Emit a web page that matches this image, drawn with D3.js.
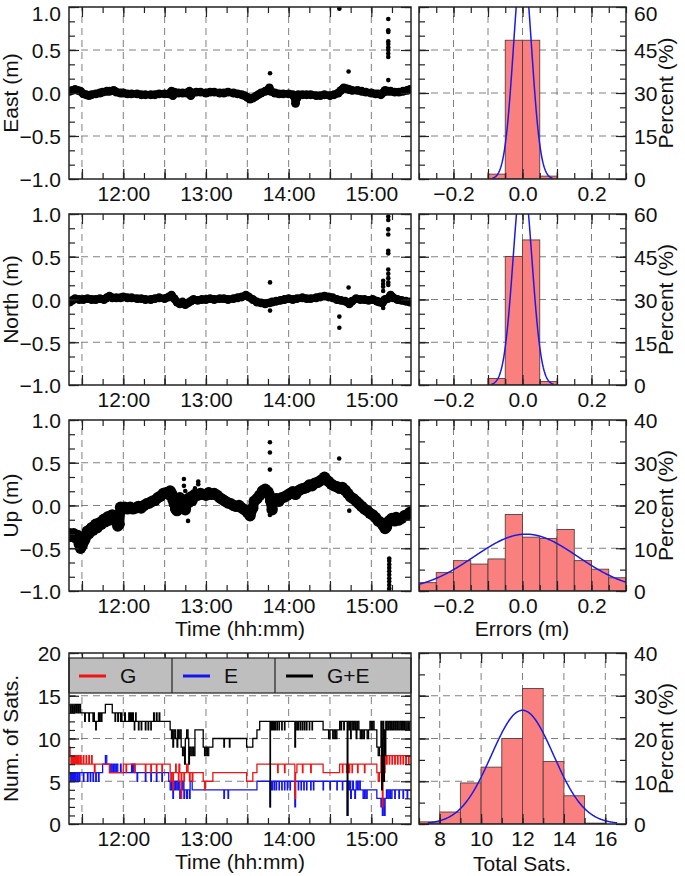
<!DOCTYPE html>
<html><head><meta charset="utf-8">
<script src="https://cdn.jsdelivr.net/npm/d3@7"></script>
<style>
body{margin:0;background:#fff}
svg{display:block}
text{font-family:"Liberation Sans",Arial,Helvetica,sans-serif;fill:#111}
</style>
</head><body><svg id="c" width="685" height="876"></svg>
<script>
// ---------------- DATA (time = minutes after 11:00) ----------------
const eastBand = [[21,0.02],[23,0.03],[25,0.04],[27,0.03],[29,0.02],[31,-0.01],[33,-0.02],[35,-0.03],[37,-0.02],[40,-0.01],[43,0.0],[45,0.01],[48,0.02],[50,0.02],[53,0.03],[55,0.01],[58,0.0],[60,0.0],[63,-0.01],[66,-0.01],[70,-0.01],[73,-0.02],[76,-0.02],[80,-0.02],[83,-0.02],[86,-0.01],[90,-0.01],[93,-0.01],[95,0.02],[96,-0.03],[97,0.01],[100,0.0],[103,0.0],[106,0.0],[108,0.02],[109,-0.03],[110,0.0],[113,0.01],[116,0.01],[120,0.0],[123,0.01],[126,0.01],[130,0.0],[133,0.0],[136,0.01],[140,0.0],[143,-0.01],[146,-0.02],[148,-0.03],[150,-0.05],[152,-0.07],[154,-0.06],[156,-0.04],[158,-0.02],[160,0.0],[163,0.02],[165,0.03],[166,0.06],[167,0.02],[170,0.0],[173,-0.01],[176,-0.01],[180,-0.01],[183,-0.02],[184,-0.04],[185,-0.12],[186,-0.06],[187,-0.02],[190,-0.02],[193,-0.02],[196,-0.02],[200,-0.03],[203,-0.03],[206,-0.02],[210,-0.03],[213,-0.02],[216,0.0],[218,0.03],[220,0.06],[222,0.05],[224,0.04],[226,0.03],[230,0.03],[233,0.02],[236,0.01],[240,0.0],[243,-0.01],[245,-0.01],[247,-0.02],[249,0.01],[250,0.03],[252,0.02],[254,0.02],[257,0.01],[260,0.01],[263,0.02],[266,0.03],[268,0.04]];
const eastOutliers = [[166.5,0.23],[216.8,0.98],[223.5,0.25],[252.3,0.86],[252.3,0.73],[252.3,0.71],[252.3,0.6],[252.3,0.57],[252.3,0.53],[252.3,0.5],[252.3,0.46],[252.3,0.42],[252.3,0.15]];

const northBand = [[21,-0.03],[23,-0.01],[25,0.01],[28,0.0],[31,0.0],[34,0.01],[37,0.0],[40,0.0],[43,0.01],[46,0.0],[48,0.02],[50,0.04],[52,0.02],[55,0.02],[58,0.02],[60,0.03],[63,0.02],[66,0.02],[70,0.01],[73,0.01],[76,0.0],[80,0.0],[83,0.01],[86,0.02],[90,0.01],[93,0.03],[95,0.05],[97,0.01],[99,-0.03],[101,-0.05],[103,-0.03],[105,-0.06],[107,-0.04],[109,-0.02],[111,0.0],[114,-0.01],[117,0.0],[120,0.0],[123,0.01],[126,0.0],[130,0.01],[133,0.01],[136,0.0],[140,0.01],[143,0.02],[146,0.03],[149,0.05],[151,0.03],[154,0.0],[157,-0.03],[160,-0.04],[163,-0.05],[166,-0.04],[168,-0.03],[171,-0.02],[174,-0.01],[177,0.0],[180,0.01],[183,0.0],[186,0.01],[190,0.02],[193,0.01],[196,0.01],[200,0.02],[203,0.03],[206,0.04],[209,0.03],[212,0.02],[215,0.0],[218,-0.01],[221,-0.02],[224,-0.05],[226,-0.02],[229,0.01],[232,0.0],[235,0.0],[238,-0.01],[241,0.0],[244,-0.02],[246,-0.03],[248,-0.04],[250,0.0],[252,0.01],[254,0.05],[256,0.02],[259,0.0],[262,-0.01],[265,-0.02],[268,-0.03]];
const northOutliers = [[166.5,0.2],[166.5,-0.13],[216.8,-0.2],[216.8,-0.33],[223.5,0.14],[248.6,0.22],[248.6,0.18],[248.6,0.15],[248.6,0.1],[248.6,-0.05],[248.6,-0.1],[252.3,0.97],[252.3,0.93],[252.3,0.82],[252.3,0.76],[252.3,0.57],[252.3,0.54],[252.3,0.35],[252.3,0.3],[252.3,0.25],[252.3,0.2],[252.3,0.17]];

const upBand = [[21,-0.33],[22,-0.36],[24,-0.33],[25.5,-0.38],[27,-0.35],[28,-0.45],[29,-0.5],[30,-0.47],[31,-0.43],[32,-0.4],[33,-0.36],[34,-0.3],[35,-0.33],[36,-0.28],[37,-0.26],[38,-0.29],[39,-0.25],[40,-0.22],[41,-0.26],[42,-0.23],[43,-0.2],[44,-0.22],[45,-0.18],[46,-0.16],[47,-0.19],[48,-0.15],[49,-0.13],[50,-0.17],[51,-0.14],[52,-0.11],[53,-0.13],[54,-0.16],[55,-0.18],[56,-0.24],[57,-0.22],[58,-0.02],[59,-0.03],[61,-0.02],[63,-0.04],[65,-0.02],[67,-0.04],[69,-0.03],[71,-0.01],[73,-0.03],[75,0.0],[77,0.02],[79,0.03],[81,0.05],[83,0.06],[85,0.09],[87,0.11],[89,0.14],[91,0.15],[93,0.13],[94,0.17],[95,0.14],[96,0.07],[97,0.02],[98,-0.04],[99,-0.06],[100,0.04],[101,0.09],[102,0.03],[103,0.0],[104,0.05],[105,-0.05],[106,0.02],[107,0.08],[108,0.04],[109,0.1],[110,0.06],[111,0.11],[112,0.13],[114,0.12],[116,0.14],[118,0.13],[120,0.12],[122,0.15],[124,0.13],[126,0.14],[128,0.12],[130,0.09],[132,0.07],[134,0.05],[136,0.03],[138,0.02],[140,0.0],[142,-0.01],[144,0.0],[146,-0.03],[148,-0.05],[150,-0.08],[152,-0.12],[154,-0.03],[155,0.05],[157,0.08],[159,0.12],[161,0.17],[163,0.19],[165,0.16],[166,0.12],[167,0.05],[168,-0.05],[169,0.06],[171,0.08],[173,0.05],[175,0.09],[177,0.1],[179,0.12],[181,0.14],[183,0.16],[185,0.13],[187,0.17],[189,0.19],[191,0.2],[193,0.21],[195,0.24],[197,0.23],[199,0.26],[201,0.27],[203,0.29],[205,0.31],[206,0.33],[207,0.31],[209,0.28],[211,0.25],[213,0.23],[215,0.22],[217,0.2],[219,0.21],[221,0.18],[223,0.14],[225,0.1],[227,0.08],[229,0.05],[231,0.02],[233,-0.01],[235,-0.04],[237,-0.06],[239,-0.09],[241,-0.11],[243,-0.14],[245,-0.18],[247,-0.2],[248,-0.22],[249,-0.24],[250,-0.27],[251,-0.25],[252,-0.2],[253,-0.18],[254,-0.17],[255,-0.15],[256,-0.16],[257,-0.18],[258,-0.14],[260,-0.17],[262,-0.15],[264,-0.12],[266,-0.11],[268,-0.08]];
const upOutliers = [[104,0.31],[104,0.23],[105,0.17],[107,-0.18],[112,0.2],[114.4,0.28],[114.4,0.25],[166.4,0.74],[166.4,0.62],[166.4,0.42],[166.4,-0.11],[216.7,0.55],[224,-0.06],[253,-0.62],[253,-0.65],[253,-0.69],[253,-0.73],[253,-0.77],[253,-0.81],[253,-0.85],[253,-0.89],[253,-0.93],[253,-0.97],[253,-1.0]];

// satellites: step change points [time, count]
const satsGE = [[21,14],[21.5,13],[22,14],[23,13],[23.5,14],[24.5,13],[25,14],[26,13],[26.5,14],[27.5,13],[28,14],[29,13],[32,12],[32.4,13],[35,12],[35.4,13],[38,12],[38.4,13],[39,12],[40,11],[40.4,12],[42,13],[42.5,12],[43,13],[44,12],[44.5,13],[47,14],[52,13],[54,12],[54.4,13],[56,12],[56.4,13],[58,12],[58.5,13],[59,12],[61,13],[61.5,12],[64,13],[64.3,12],[65,13],[65.3,12],[66,13],[66.3,12],[67,13],[67.3,12],[68,11],[68.3,12],[69,13],[69.3,12],[71,11],[71.4,12],[73,11],[73.4,12],[76,11],[76.4,12],[78,11],[78.4,12],[80,11],[80.3,12],[82,13],[82.5,12],[84,13],[84.5,12],[86,13],[86.5,12],[94,11],[95,10],[95.5,11],[96,9],[96.5,10],[97,11],[98,10],[99,9],[99.5,11],[100,10],[101,11],[102,9],[103,8],[104,9],[104.5,7],[105,10],[106,11],[107,10],[107.5,7],[108,9],[109,8],[110,9],[111,8],[112,11],[118,9],[119,8],[120,9],[121,8],[122,9],[125,10],[133,9],[133.4,10],[137,9],[137.4,10],[149.5,9],[154,10],[157,11],[159,12],[166.5,2],[166.8,12],[167,11],[167.3,12],[168,11],[168.3,12],[169,11],[169.3,12],[170,11],[170.4,12],[171.5,11],[171.8,12],[173,11],[173.3,12],[175,11],[175.3,12],[177,11],[177.3,12],[184.5,9],[185,12],[186,11],[186.3,12],[187,11],[187.3,12],[188.5,11],[188.8,12],[190,11],[190.3,12],[191.5,11],[191.8,12],[193,11],[193.3,12],[195,11],[195.3,12],[197,11],[197.3,12],[205,11],[209,10],[210,11],[212,10],[213,11],[214,10],[215,11],[217,12],[218,11],[218.4,12],[220,11],[220.4,12],[222.5,1],[223,12],[224,11],[224.4,12],[225,10],[225.4,12],[226.5,11],[227,12],[228,11],[228.4,12],[229,10],[229.5,11],[230,12],[231,11],[232,10],[233,11],[234,10],[235,11],[237,10],[238,11],[239,12],[240,11],[241,12],[242,11],[244,9],[245,8],[246,9],[247,12],[247.5,4],[248,10],[248.5,12],[249,5],[249.5,11],[250,8],[250.5,12],[251,11],[252,12],[252.5,11],[253,12],[254,11],[254.5,12],[255,11],[256,12],[257,11],[257.5,12],[258.5,11],[259,12],[260,11],[261,12],[262,11],[262.5,12],[263.5,11],[264,12],[265,11],[266,12],[267,11],[268,12],[270,12]];
const satsG = [[21,9],[21.4,8],[22,7],[22.4,8],[23,7],[23.4,8],[24,7],[24.4,8],[25,7],[25.4,8],[26,7],[26.4,8],[27,7],[27.4,8],[28,7],[29,8],[29.4,7],[31,8],[31.4,7],[33,8],[33.4,7],[35,8],[35.4,7],[37,8],[37.4,7],[39,6],[39.5,7],[50,6],[60,7],[62,6],[62.4,7],[68,6],[68.4,7],[76,6],[76.4,7],[80,6],[80.4,7],[84,6],[84.4,7],[88,6],[88.4,7],[94,6],[94.5,5],[95,6],[96,4],[96.4,6],[98,7],[98.4,6],[100,5],[100.4,7],[101,6],[102,3],[102.4,6],[104,5],[104.4,6],[106,7],[107,6],[108,5],[108.5,6],[110,5],[110.5,6],[118,5],[119,4],[119.5,5],[125,6],[149.5,5],[154,6],[157,7],[172,6],[172.4,7],[177,6],[177.4,7],[184.5,3],[185,6],[186,7],[190,6],[190.4,7],[196,6],[196.4,7],[205,6],[217,7],[219,6],[219.4,7],[222,6],[222.3,7],[223,6],[223.3,7],[224,6],[224.3,7],[226,6],[226.3,7],[230,6],[230.4,7],[235,6],[235.4,7],[244,6],[245,5],[246,6],[247,8],[247.5,7],[248,2],[248.5,7],[249,8],[249.5,6],[250,8],[251,7],[251.5,8],[253,7],[253.4,8],[255,7],[255.4,8],[257,7],[257.4,8],[259,7],[259.4,8],[261,7],[261.4,8],[263,7],[263.4,8],[265,7],[265.4,8],[267,7],[267.4,8],[270,8]];
const satsE = [[21,5],[21.5,6],[22,5],[22.5,6],[23,5],[23.5,6],[24,5],[24.5,6],[25,5],[25.5,6],[26.5,5],[27,6],[28,5],[28.5,6],[31,5],[31.4,6],[34,5],[34.4,6],[36,5],[36.4,6],[38,5],[38.4,6],[40,5],[40.4,6],[42,5],[42.4,6],[45,7],[47,8],[48,7],[50,6],[51,7],[52,6],[53,7],[54,6],[55,7],[56,6],[58,7],[58.4,6],[66,7],[66.5,6],[67,7],[67.5,6],[68,7],[68.5,6],[70,5],[70.4,6],[76,5],[76.4,6],[80,5],[80.4,6],[84,5],[84.4,6],[88,5],[88.4,6],[93,5],[94,4],[95,5],[96,3],[96.4,5],[97,4],[98,5],[99,4],[100,5],[101,3],[102,4],[103,5],[104,3],[104.5,4],[106,3],[106.5,4],[108,3],[108.5,5],[110,4],[133,3],[133.4,4],[136,3],[136.4,4],[157,5],[166.5,2],[166.8,5],[167,4],[167.3,5],[168,4],[168.3,5],[169.5,4],[169.8,5],[171,4],[171.3,5],[173,4],[173.3,5],[175,4],[175.3,5],[177,4],[177.3,5],[179,4],[179.3,5],[181,4],[181.3,5],[184.5,2],[185,5],[187,4],[187.3,5],[189,4],[189.3,5],[191,4],[191.3,5],[193,4],[193.3,5],[196,4],[196.3,5],[198,4],[198.3,5],[205,4],[205.3,5],[210,4],[210.3,5],[215,4],[215.3,5],[219,4],[219.3,5],[222.5,1],[223,5],[224,4],[224.5,5],[225,3],[225.5,4],[226.5,5],[227,4],[228,3],[228.5,4],[229,5],[230,4],[231,5],[232,4],[234,3],[235,4],[236,3],[237,4],[244,3],[247,2],[247.5,3],[248,1],[248.5,3],[249,2],[249.5,1],[250,3],[251,4],[252,3],[253,4],[254,3],[255,4],[257,3],[257.4,4],[260,3],[260.4,4],[263,3],[263.4,4],[266,3],[266.4,4],[270,4]];

// histograms (percent per bin)
const eastBins = [-0.1,-0.05,0.0,0.05];   const eastPct = [1.7,48.4,48.4,1.0];
const northBins = [-0.1,-0.05,0.0,0.05];  const northPct = [2.3,45.1,50.9,1.2];
const upBins = [-0.3,-0.25,-0.2,-0.15,-0.1,-0.05,0.0,0.05,0.1,0.15,0.2,0.25];
const upPct = [1.95,4.3,7.1,6.3,7.5,17.9,12.6,12.3,14.4,7.1,5.1,3.1];
const satBins = [7,8,9,10,11,12,13,14,15];
const satPct = [0.5,2.8,9.6,13.3,20.0,31.7,14.6,6.6,0.2];
// gaussian fits [mean, sigma, binWidth]
const eastFit = [0.0,0.026,0.05], northFit = [0.0,0.027,0.05], upFit = [0.01,0.15,0.05], satFit = [12,1.5,1];

// tick labels
const timeLabels = [60,120,180,240];           // 12:00..15:00
const errLabels = [-0.2,0.0,0.2];
const satLabels = [8,10,12,14,16];
const enuLabels = [-1,-0.5,0,0.5,1];
const satCountLabels = [0,5,10,15,20];
const pct60Labels = [0,15,30,45,60];
const pct40Labels = [0,10,20,30,40];

// ---------------- DRAWING ----------------
const svg = d3.select("#c");
const FS = 21;
const LX = [69,411], RX = [419,626];
const rows = [[179,7],[385,214],[591,420],[824,653]];

const xT = d3.scaleLinear().domain([20.6,268.8]).range(LX);
const xErr = d3.scaleLinear().domain([-0.3,0.3]).range(RX);
const xSat = d3.scaleLinear().domain([7,17]).range(RX);
const fmtTime = t => (11+Math.floor(t/60)) + ":" + String(Math.round(t%60)).padStart(2,"0");
const fmt1 = d3.format(".1f");
const fmt0 = d3.format("d");

let clipId = 0;
function makeClip(x,y){
  const id = "cl"+(clipId++);
  svg.append("clipPath").attr("id",id).append("rect")
    .attr("x",x.range()[0]).attr("y",y.range()[1])
    .attr("width",x.range()[1]-x.range()[0]).attr("height",y.range()[0]-y.range()[1]);
  return "url(#"+id+")";
}
function grid(x,y,xg,yg){
  const g = svg.append("g").attr("stroke","#808080").attr("stroke-width",1).attr("stroke-dasharray","7,5");
  g.selectAll(null).data(xg).join("line").attr("x1",d=>x(d)).attr("x2",d=>x(d)).attr("y1",y.range()[0]).attr("y2",y.range()[1]);
  g.selectAll(null).data(yg).join("line").attr("y1",d=>y(d)).attr("y2",d=>y(d)).attr("x1",x.range()[0]).attr("x2",x.range()[1]);
}
function tickSet(axisFn, scale, vals, size, tx, ty){
  svg.append("g").attr("transform",`translate(${tx},${ty})`)
    .call(axisFn(scale).tickValues(vals).tickSize(size).tickFormat(""))
    .call(g=>g.select(".domain").remove())
    .attr("color","#222").selectAll("line").attr("stroke-width",1.2);
}
function ticks(x,y,o){
  const [xa,xb]=x.range(), [ya,yb]=y.range();
  tickSet(d3.axisBottom,x,o.xMinor,-6,0,ya); tickSet(d3.axisBottom,x,o.xMajor,-10,0,ya);
  tickSet(d3.axisTop,x,o.xMinor,-6,0,yb);    tickSet(d3.axisTop,x,o.xMajor,-10,0,yb);
  tickSet(d3.axisLeft,y,o.yMinor,-6,xa,0);   tickSet(d3.axisLeft,y,o.yMajor,-10,xa,0);
  tickSet(d3.axisRight,y,o.yMinor,-6,xb,0);  tickSet(d3.axisRight,y,o.yMajor,-10,xb,0);
}
function labels(x,y,o){
  const [xa,xb]=x.range(), [ya,yb]=y.range();
  svg.append("g").attr("transform",`translate(0,${ya})`)
    .call(d3.axisBottom(x).tickValues(o.xLabels).tickFormat(o.xFmt).tickSize(0).tickPadding(7))
    .call(g=>g.select(".domain").remove())
    .attr("font-size",FS).attr("font-family",null).attr("color","#111");
  const yAx = o.right ? d3.axisRight(y) : d3.axisLeft(y);
  svg.append("g").attr("transform",`translate(${o.right?xb:xa},0)`)
    .call(yAx.tickValues(o.yLabels).tickFormat(o.yFmt).tickSize(0).tickPadding(8))
    .call(g=>g.select(".domain").remove())
    .call(g=>g.selectAll("text").attr("dy",d=>y(d)<15 ? (20-y(d))+"px" : "0.38em"))
    .attr("font-size",FS).attr("font-family",null).attr("color","#111");
}
function frameRect(x,y){
  svg.append("rect").attr("x",x.range()[0]).attr("y",y.range()[1])
    .attr("width",x.range()[1]-x.range()[0]).attr("height",y.range()[0]-y.range()[1])
    .attr("fill","none").attr("stroke","#222").attr("stroke-width",1.5);
}
function vTitle(txt,x,yMid){
  svg.append("text").attr("transform",`translate(${x},${yMid}) rotate(-90)`)
    .attr("text-anchor","middle").attr("font-size",FS).text(txt);
}
function hTitle(txt,xMid,y){
  svg.append("text").attr("x",xMid).attr("y",y).attr("text-anchor","middle").attr("font-size",FS).text(txt);
}

const timeMinor = d3.range(30,269,15), timeMajor = d3.range(30,269,30);
const enuMinor = d3.range(0,13).map(i=>-1+i/6);

// ---- time series panels (E, N, U)
const tsPanels = [
  {band:eastBand, out:eastOutliers, title:"East (m)", w:7.5},
  {band:northBand, out:northOutliers, title:"North (m)", w:7.5},
  {band:upBand, out:upOutliers, title:"Up (m)", w:10}
];
tsPanels.forEach((p,i)=>{
  const y = d3.scaleLinear().domain([-1,1]).range(rows[i]);
  grid(xT,y,timeMajor,[-0.5,0,0.5]);
  const clip = makeClip(xT,y);
  const g = svg.append("g").attr("clip-path",clip);
  g.append("path").datum(p.band)
    .attr("d",d3.line().x(d=>xT(d[0])).y(d=>y(d[1])))
    .attr("fill","none").attr("stroke","#000").attr("stroke-width",p.w)
    .attr("stroke-linejoin","round").attr("stroke-linecap","round");
  g.selectAll(null).data(p.band).join("circle")
    .attr("cx",d=>xT(d[0])).attr("cy",d=>y(d[1])).attr("r",p.w/2+0.7).attr("fill","#000");
  g.selectAll(null).data(p.out).join("circle")
    .attr("cx",d=>xT(d[0])).attr("cy",d=>y(d[1])).attr("r",2.3).attr("fill","#000");
  ticks(xT,y,{xMinor:timeMinor,xMajor:timeMajor,yMinor:enuMinor,yMajor:enuLabels});
  labels(xT,y,{xLabels:timeLabels,xFmt:fmtTime,yLabels:enuLabels,yFmt:fmt1});
  frameRect(xT,y);
  vTitle(p.title,18,(rows[i][0]+rows[i][1])/2);
});
hTitle("Time (hh:mm)",240,636);

// ---- satellites panel
{
  const y = d3.scaleLinear().domain([0,20]).range(rows[3]);
  grid(xT,y,timeMajor,[5,10,15]);
  const clip = makeClip(xT,y);
  const g = svg.append("g").attr("clip-path",clip);
  const line = d3.line().x(d=>xT(d[0])).y(d=>y(d[1])).curve(d3.curveStepAfter);
  [[satsE,"#1414f0"],[satsG,"#f01414"],[satsGE,"#000"]].forEach(([s,c])=>{
    g.append("path").datum(s).attr("d",line).attr("fill","none").attr("stroke",c).attr("stroke-width",1.3);
  });
  ticks(xT,y,{xMinor:timeMinor,xMajor:timeMajor,yMinor:d3.range(0,21,1),yMajor:satCountLabels});
  // legend box
  const lg = svg.append("g");
  lg.append("rect").attr("x",69).attr("y",658).attr("width",342).attr("height",35)
    .attr("fill","#bebebe").attr("stroke","#222").attr("stroke-width",1.2);
  [172,275].forEach(xx=>lg.append("line").attr("x1",xx).attr("x2",xx).attr("y1",658).attr("y2",693).attr("stroke","#222").attr("stroke-width",1.2));
  const legendItems = [["G","#f01414",79],["E","#1414f0",183],["G+E","#000",286]];
  legendItems.forEach(([t,c,x0])=>{
    lg.append("line").attr("x1",x0).attr("x2",x0+27).attr("y1",676).attr("y2",676).attr("stroke",c).attr("stroke-width",3);
    lg.append("text").attr("x",x0+41).attr("y",683).attr("font-size",FS).text(t);
  });
  labels(xT,y,{xLabels:timeLabels,xFmt:fmtTime,yLabels:satCountLabels,yFmt:fmt0});
  frameRect(xT,y);
  vTitle("Num. of Sats.",18,(rows[3][0]+rows[3][1])/2);
  hTitle("Time (hh:mm)",240,869);
}

// ---- histograms
const gaussPct = f => v => f[2]*100/(f[1]*Math.sqrt(2*Math.PI))*Math.exp(-((v-f[0])**2)/(2*f[1]*f[1]));
const histPanels = [
  {x:xErr,bins:eastBins,pct:eastPct,w:0.05,fit:eastFit,ymax:60,yl:pct60Labels,xl:errLabels,xf:fmt1,xGrid:[-0.2,-0.1,0,0.1,0.2],xMinor:d3.range(-0.3,0.3001,0.05)},
  {x:xErr,bins:northBins,pct:northPct,w:0.05,fit:northFit,ymax:60,yl:pct60Labels,xl:errLabels,xf:fmt1,xGrid:[-0.2,-0.1,0,0.1,0.2],xMinor:d3.range(-0.3,0.3001,0.05)},
  {x:xErr,bins:upBins,pct:upPct,w:0.05,fit:upFit,ymax:40,yl:pct40Labels,xl:errLabels,xf:fmt1,xGrid:[-0.2,-0.1,0,0.1,0.2],xMinor:d3.range(-0.3,0.3001,0.05)},
  {x:xSat,bins:satBins,pct:satPct,w:1,fit:satFit,ymax:40,yl:pct40Labels,xl:satLabels,xf:fmt0,xGrid:[8,10,12,14,16],xMinor:d3.range(7,17.01,1)}
];
histPanels.forEach((h,i)=>{
  const x = h.x;
  const y = d3.scaleLinear().domain([0,h.ymax]).range(rows[i]);
  grid(x,y,h.xGrid,h.yl.slice(1,-1));
  const clip = makeClip(x,y);
  const g = svg.append("g").attr("clip-path",clip);
  g.selectAll(null).data(h.bins).join("rect")
    .attr("x",(d)=>x(d)).attr("width",d=>x(d+h.w)-x(d))
    .attr("y",(d,j)=>y(h.pct[j])).attr("height",(d,j)=>y(0)-y(h.pct[j]))
    .attr("fill","#fa8080").attr("stroke","#5a3c3c").attr("stroke-width",0.9);
  const gf = gaussPct(h.fit);
  const dom = x.domain();
  const pts = d3.range(0,401).map(k=>dom[0]+(dom[1]-dom[0])*k/400).filter(v=>gf(v)>0.25).map(v=>[v,gf(v)]);
  g.append("path").datum(pts).attr("d",d3.line().x(d=>x(d[0])).y(d=>y(d[1])))
    .attr("fill","none").attr("stroke","#1a1ae6").attr("stroke-width",1.5);
  const yMinor = d3.range(0,h.ymax+0.01,5);
  ticks(x,y,{xMinor:h.xMinor,xMajor:h.xGrid,yMinor:yMinor,yMajor:h.yl});
  labels(x,y,{xLabels:h.xl,xFmt:h.xf,yLabels:h.yl,yFmt:fmt0,right:true});
  frameRect(x,y);
  vTitle("Percent (%)",673,(rows[i][0]+rows[i][1])/2);
});
hTitle("Errors (m)",522,636);
hTitle("Total Sats.",522,871);
</script></body></html>
